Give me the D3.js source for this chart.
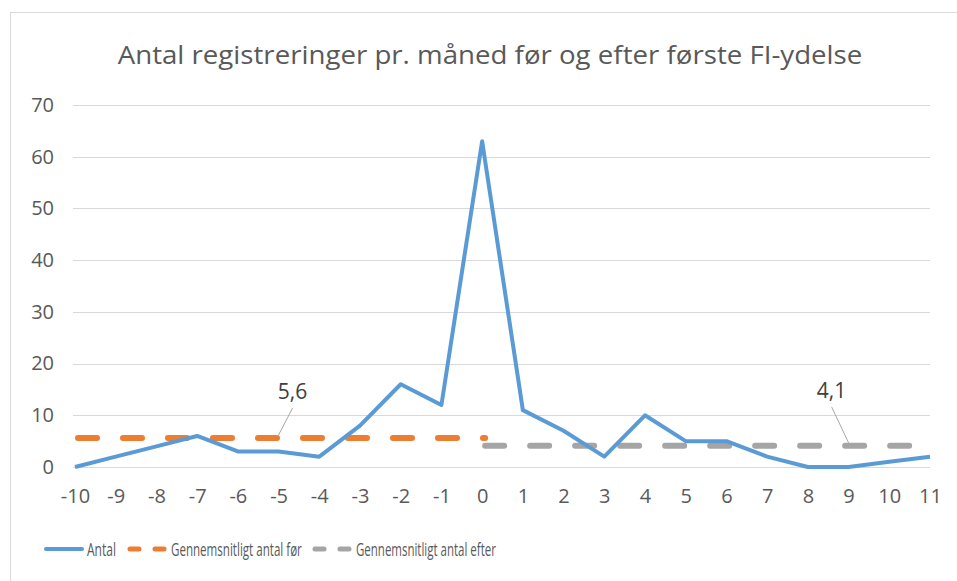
<!DOCTYPE html>
<html>
<head>
<meta charset="utf-8">
<script src="https://cdn.jsdelivr.net/npm/d3@7"></script>
<style>
  body { margin: 0; background: #fff; }
  svg { display: block; font-family: "Open Sans", "Noto Sans", sans-serif; }
</style>
</head>
<body>
<div id="chart"></div>
<script>
var width = 957, height = 581;
var margin = ({top: 105, right: 27, bottom: 114, left: 75});

var titleText = "Antal registreringer pr. måned før og efter første FI-ydelse";
var months = [-10, -9, -8, -7, -6, -5, -4, -3, -2, -1, 0, 1, 2, 3, 4, 5, 6, 7, 8, 9, 10, 11];
var antal = [0, 2, 4, 6, 3, 3, 2, 8, 16, 12, 63, 11, 7, 2, 10, 5, 5, 2, 0, 0, 1, 2];
var avgBefore = 5.6, avgAfter = 4.1;
var beforeMonths = [-10, 0];
var afterMonths = [0, 11];
var yTicks = [0, 10, 20, 30, 40, 50, 60, 70];
var seriesNames = ["Antal", "Gennemsnitligt antal før", "Gennemsnitligt antal efter"];
var colors = ["#5b9bd5", "#ed7d31", "#a5a5a5"];

var svg = d3.select("#chart").append("svg")
    .attr("width", width)
    .attr("height", height);

// text squeezed horizontally to a given width (the original font is a narrow one)
function narrowText(parent, tx, ty, txt, size, target, anchor) {
    var g = parent.append("g");
    var t = g.append("text")
        .attr("fill", "#595959")
        .attr("font-size", size + "px")
        .attr("text-anchor", anchor || "start")
        .text(txt);
    var w = t.node().getComputedTextLength();
    var sx = w > 0 ? target / w : 1;
    g.attr("transform", `translate(${tx},${ty}) scale(${sx},1)`);
    return t;
}

// frame of the chart area
svg.append("rect")
    .attr("x", 10.5).attr("y", 12.5)
    .attr("width", 1000).attr("height", 1000)
    .attr("fill", "none")
    .attr("stroke", "#d9d9d9");

var x = d3.scaleLinear()
    .domain([-10, 11])
    .range([margin.left, width - margin.right]);

var y = d3.scaleLinear()
    .domain([0, 70])
    .range([height - margin.bottom, margin.top]);

// gridlines
svg.append("g")
    .selectAll("line")
    .data(yTicks)
    .join("line")
      .attr("x1", x(-10) - 2)
      .attr("x2", x(11))
      .attr("y1", d => Math.round(y(d)) + 0.5)
      .attr("y2", d => Math.round(y(d)) + 0.5)
      .attr("stroke", "#d9d9d9")
      .attr("stroke-width", 1);

// y axis labels
var yAxis = g => g
    .attr("transform", `translate(${x(-10) - 21},0)`)
    .call(d3.axisLeft(y).tickValues(yTicks).tickSize(0).tickPadding(0))
    .call(g => g.select(".domain").remove())
    .call(g => g.selectAll("text")
        .attr("fill", "#595959")
        .attr("font-family", "'Open Sans', sans-serif")
        .attr("font-size", "20px"));
svg.append("g").call(yAxis);

// x axis labels
var xAxis = g => g
    .attr("transform", `translate(0,${y(0) + 22})`)
    .call(d3.axisBottom(x).tickValues(months).tickSize(0).tickPadding(0).tickFormat(d3.format("d")))
    .call(g => g.select(".domain").remove())
    .call(g => g.selectAll("text")
        .attr("fill", "#595959")
        .attr("font-family", "'Open Sans', sans-serif")
        .attr("font-size", "20px")
        .text(d => String(d).replace("−", "-")));
svg.append("g").call(xAxis);

// average lines
svg.append("line")
    .attr("x1", x(beforeMonths[0])).attr("x2", x(beforeMonths[1]))
    .attr("y1", y(avgBefore)).attr("y2", y(avgBefore))
    .attr("stroke", colors[1])
    .attr("stroke-width", 6)
    .attr("stroke-linecap", "round")
    .attr("stroke-dasharray", "19,26")
    .attr("transform", "translate(3,0)");

svg.append("line")
    .attr("x1", x(afterMonths[0])).attr("x2", x(afterMonths[1]))
    .attr("y1", y(avgAfter)).attr("y2", y(avgAfter))
    .attr("stroke", colors[2])
    .attr("stroke-width", 6)
    .attr("stroke-linecap", "round")
    .attr("stroke-dasharray", "19,26")
    .attr("transform", "translate(3,0)");

// main line
var line = d3.line()
    .x((d, i) => x(months[i]))
    .y(d => y(d));

svg.append("path")
    .datum(antal)
    .attr("fill", "none")
    .attr("stroke", colors[0])
    .attr("stroke-width", 4)
    .attr("stroke-linejoin", "round")
    .attr("d", line);

// data labels with leader lines
function dataLabel(xv, yv, txt, dx, dy) {
    var px = x(xv), py = y(yv);
    svg.append("line")
        .attr("x1", px + dx).attr("y1", py - dy + 9)
        .attr("x2", px).attr("y2", py - 3)
        .attr("stroke", "#a6a6a6")
        .attr("stroke-width", 1);
    svg.append("text")
        .attr("x", px + dx)
        .attr("y", py - dy)
        .attr("text-anchor", "middle")
        .attr("fill", "#404040")
        .attr("font-size", "21px")
        .text(txt);
}
dataLabel(-5, avgBefore, "5,6", 14, 39);
dataLabel(9, avgAfter, "4,1", -17, 48);

// title
narrowText(svg, 490, 64, titleText, 26, 745, "middle");

// legend
var ly = 549;
var legend = svg.append("g");
legend.append("line")
    .attr("x1", 46).attr("x2", 82).attr("y1", ly).attr("y2", ly)
    .attr("stroke", colors[0]).attr("stroke-width", 4).attr("stroke-linecap", "round");
narrowText(legend, 87, ly + 7, seriesNames[0], 19, 29);

[[130, 171, 1, 131], [315, 356, 2, 140]].forEach(function (p) {
    legend.append("line")
        .attr("x1", p[0]).attr("x2", p[0] + 36).attr("y1", ly).attr("y2", ly)
        .attr("stroke", colors[p[2]]).attr("stroke-width", 5).attr("stroke-linecap", "round")
        .attr("stroke-dasharray", "9,16");
    narrowText(legend, p[1], ly + 7, seriesNames[p[2]], 19, p[3]);
});
</script>
</body>
</html>
